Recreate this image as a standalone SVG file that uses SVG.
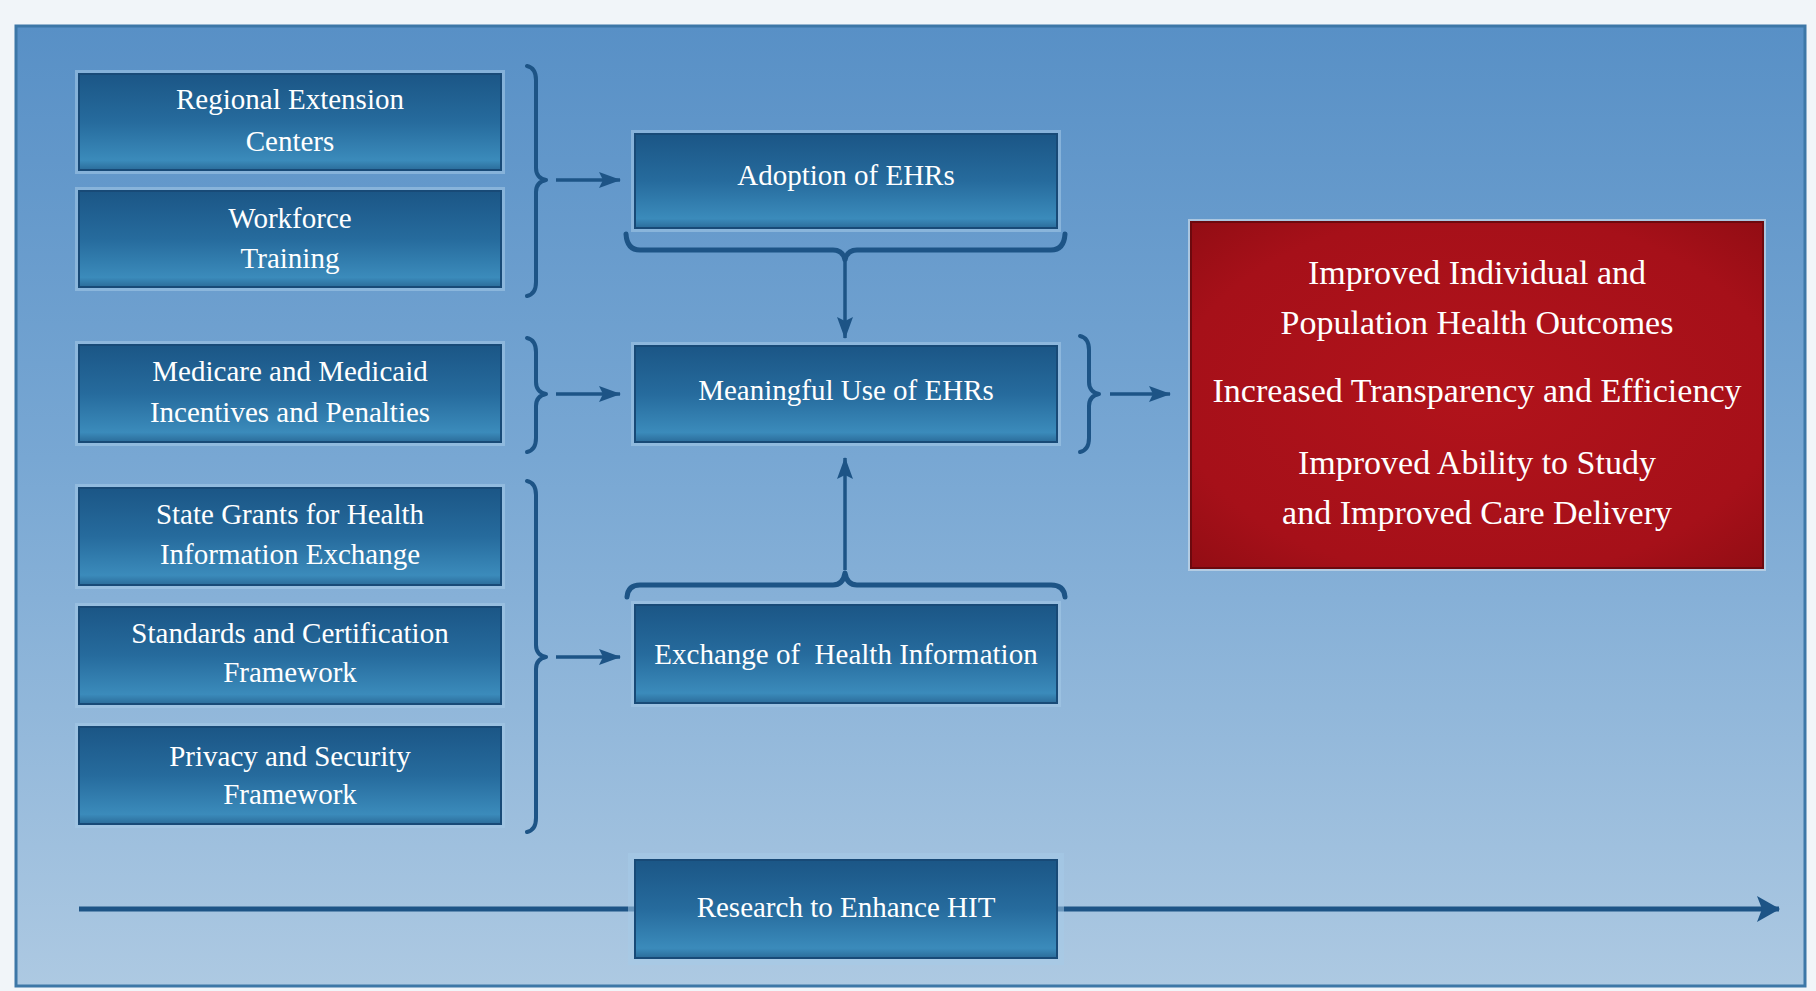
<svg xmlns="http://www.w3.org/2000/svg" width="1816" height="991" viewBox="0 0 1816 991">
<defs>
<linearGradient id="panelGrad" x1="0" y1="0" x2="0" y2="1">
<stop offset="0" stop-color="#5890c6"/>
<stop offset="0.45" stop-color="#78a7d3"/>
<stop offset="1" stop-color="#adc9e2"/>
</linearGradient>
<linearGradient id="boxGrad" x1="0" y1="0" x2="0" y2="1">
<stop offset="0" stop-color="#1b5686"/>
<stop offset="0.5" stop-color="#266b9d"/>
<stop offset="0.9" stop-color="#3b8bbb"/>
<stop offset="1" stop-color="#2b6c9a"/>
</linearGradient>
<radialGradient id="redGrad" cx="0.5" cy="0.5" r="0.7">
<stop offset="0" stop-color="#b1131b"/>
<stop offset="0.75" stop-color="#a61019"/>
<stop offset="1" stop-color="#930d14"/>
</radialGradient>
<marker id="arr" markerUnits="userSpaceOnUse" markerWidth="24" markerHeight="18" refX="21" refY="8" orient="auto">
<path d="M0,0 L22,8 L0,16 L4,8 z" fill="#1d5486"/>
</marker>
<marker id="arrBig" markerUnits="userSpaceOnUse" markerWidth="26" markerHeight="28" refX="22" refY="13" orient="auto">
<path d="M0,0 L23,13 L0,26 L5,13 z" fill="#1d5486"/>
</marker>
</defs>
<style>
.halo{fill:#a6cbe7;opacity:0.55}
.box{fill:url(#boxGrad);stroke:#184a77;stroke-width:2}
.t{font-family:"Liberation Serif","Times New Roman",serif;font-size:29px;fill:#ffffff;text-anchor:middle;white-space:pre}
.rt{font-family:"Liberation Serif","Times New Roman",serif;font-size:34px;fill:#ffffff;text-anchor:middle}
.br{fill:none;stroke:#1d5486;stroke-width:4;stroke-linecap:round;stroke-linejoin:round}
.hb{fill:none;stroke:#1d5486;stroke-width:5;stroke-linecap:round;stroke-linejoin:round}
.ln{fill:none;stroke:#1d5486;stroke-width:3.5}
</style>
<rect x="0" y="0" width="1816" height="991" fill="#f1f5f9"/>
<rect x="16" y="26" width="1789" height="960" fill="url(#panelGrad)" stroke="#3d77a7" stroke-width="3"/>

<g id="connectors">
<path class="br" d="M527,66 Q536,68 536,80 L536,168 Q536,178 546,180 Q536,182 536,192 L536,282 Q536,294 527,296"/>
<path class="br" d="M527,338 Q536,340 536,352 L536,382 Q536,392 546,394 Q536,396 536,406 L536,438 Q536,450 527,452"/>
<path class="br" d="M527,481 Q536,483 536,495 L536,645 Q536,655 546,657 Q536,659 536,669 L536,818 Q536,830 527,832"/>
<path class="br" d="M1080,336 Q1089,338 1089,350 L1089,382 Q1089,392 1099,394 Q1089,396 1089,406 L1089,438 Q1089,450 1080,452"/>
<path class="hb" d="M626,234 Q627,250 640,250 L833,250 Q843,250 845,260 Q847,250 857,250 L1051,250 Q1064,250 1065,234"/>
<path class="hb" d="M627,597 Q628,585 640,585 L833,585 Q843,585 845,573 Q847,585 857,585 L1051,585 Q1064,585 1065,597"/>
<line class="ln" x1="556" y1="180" x2="620" y2="180" marker-end="url(#arr)"/>
<line class="ln" x1="556" y1="394" x2="620" y2="394" marker-end="url(#arr)"/>
<line class="ln" x1="556" y1="657" x2="620" y2="657" marker-end="url(#arr)"/>
<line class="ln" x1="1110" y1="394" x2="1170" y2="394" marker-end="url(#arr)"/>
<line class="ln" x1="845" y1="262" x2="845" y2="338" marker-end="url(#arr)"/>
<line class="ln" x1="845" y1="570" x2="845" y2="458" marker-end="url(#arr)"/>
<line x1="79" y1="909" x2="1779" y2="909" stroke="#1d5486" stroke-width="5" marker-end="url(#arrBig)"/>
</g>

<g id="regional-extension-centers">
<rect class="halo" x="75" y="70" width="430" height="104"/>
<rect class="box" x="79" y="74" width="422" height="96"/>
<text class="t" x="290" y="109">Regional Extension</text>
<text class="t" x="290" y="151">Centers</text>
</g>
<g id="workforce-training">
<rect class="halo" x="75" y="187" width="430" height="104"/>
<rect class="box" x="79" y="191" width="422" height="96"/>
<text class="t" x="290" y="228">Workforce</text>
<text class="t" x="290" y="268">Training</text>
</g>
<g id="medicare-medicaid">
<rect class="halo" x="75" y="341" width="430" height="105"/>
<rect class="box" x="79" y="345" width="422" height="97"/>
<text class="t" x="290" y="381">Medicare and Medicaid</text>
<text class="t" x="290" y="422">Incentives and Penalties</text>
</g>
<g id="state-grants">
<rect class="halo" x="75" y="484" width="430" height="105"/>
<rect class="box" x="79" y="488" width="422" height="97"/>
<text class="t" x="290" y="524">State Grants for Health</text>
<text class="t" x="290" y="564">Information Exchange</text>
</g>
<g id="standards-certification">
<rect class="halo" x="75" y="603" width="430" height="105"/>
<rect class="box" x="79" y="607" width="422" height="97"/>
<text class="t" x="290" y="643">Standards and Certification</text>
<text class="t" x="290" y="682">Framework</text>
</g>
<g id="privacy-security">
<rect class="halo" x="75" y="723" width="430" height="105"/>
<rect class="box" x="79" y="727" width="422" height="97"/>
<text class="t" x="290" y="766">Privacy and Security</text>
<text class="t" x="290" y="804">Framework</text>
</g>

<g id="adoption-ehrs">
<rect class="halo" x="631" y="130" width="430" height="102"/>
<rect class="box" x="635" y="134" width="422" height="94"/>
<text class="t" x="846" y="185">Adoption of EHRs</text>
</g>
<g id="meaningful-use">
<rect class="halo" x="631" y="342" width="430" height="104"/>
<rect class="box" x="635" y="346" width="422" height="96"/>
<text class="t" x="846" y="400">Meaningful Use of EHRs</text>
</g>
<g id="exchange-health-info">
<rect class="halo" x="631" y="601" width="430" height="106"/>
<rect class="box" x="635" y="605" width="422" height="98"/>
<text class="t" x="846" y="664">Exchange of  Health Information</text>
</g>
<g id="research-hit">
<rect class="halo" x="628" y="853" width="436" height="112"/>
<rect class="box" x="635" y="860" width="422" height="98"/>
<text class="t" x="846" y="917">Research to Enhance HIT</text>
</g>

<g id="outcomes">
<rect x="1188" y="219" width="578" height="352" fill="#c8d8e8" opacity="0.7"/>
<rect x="1191" y="222" width="572" height="346" fill="url(#redGrad)" stroke="#6c090e" stroke-width="2"/>
<text class="rt" x="1477" y="284">Improved Individual and</text>
<text class="rt" x="1477" y="334">Population Health Outcomes</text>
<text class="rt" x="1477" y="402">Increased Transparency and Efficiency</text>
<text class="rt" x="1477" y="474">Improved Ability to Study</text>
<text class="rt" x="1477" y="524">and Improved Care Delivery</text>
</g>
</svg>
